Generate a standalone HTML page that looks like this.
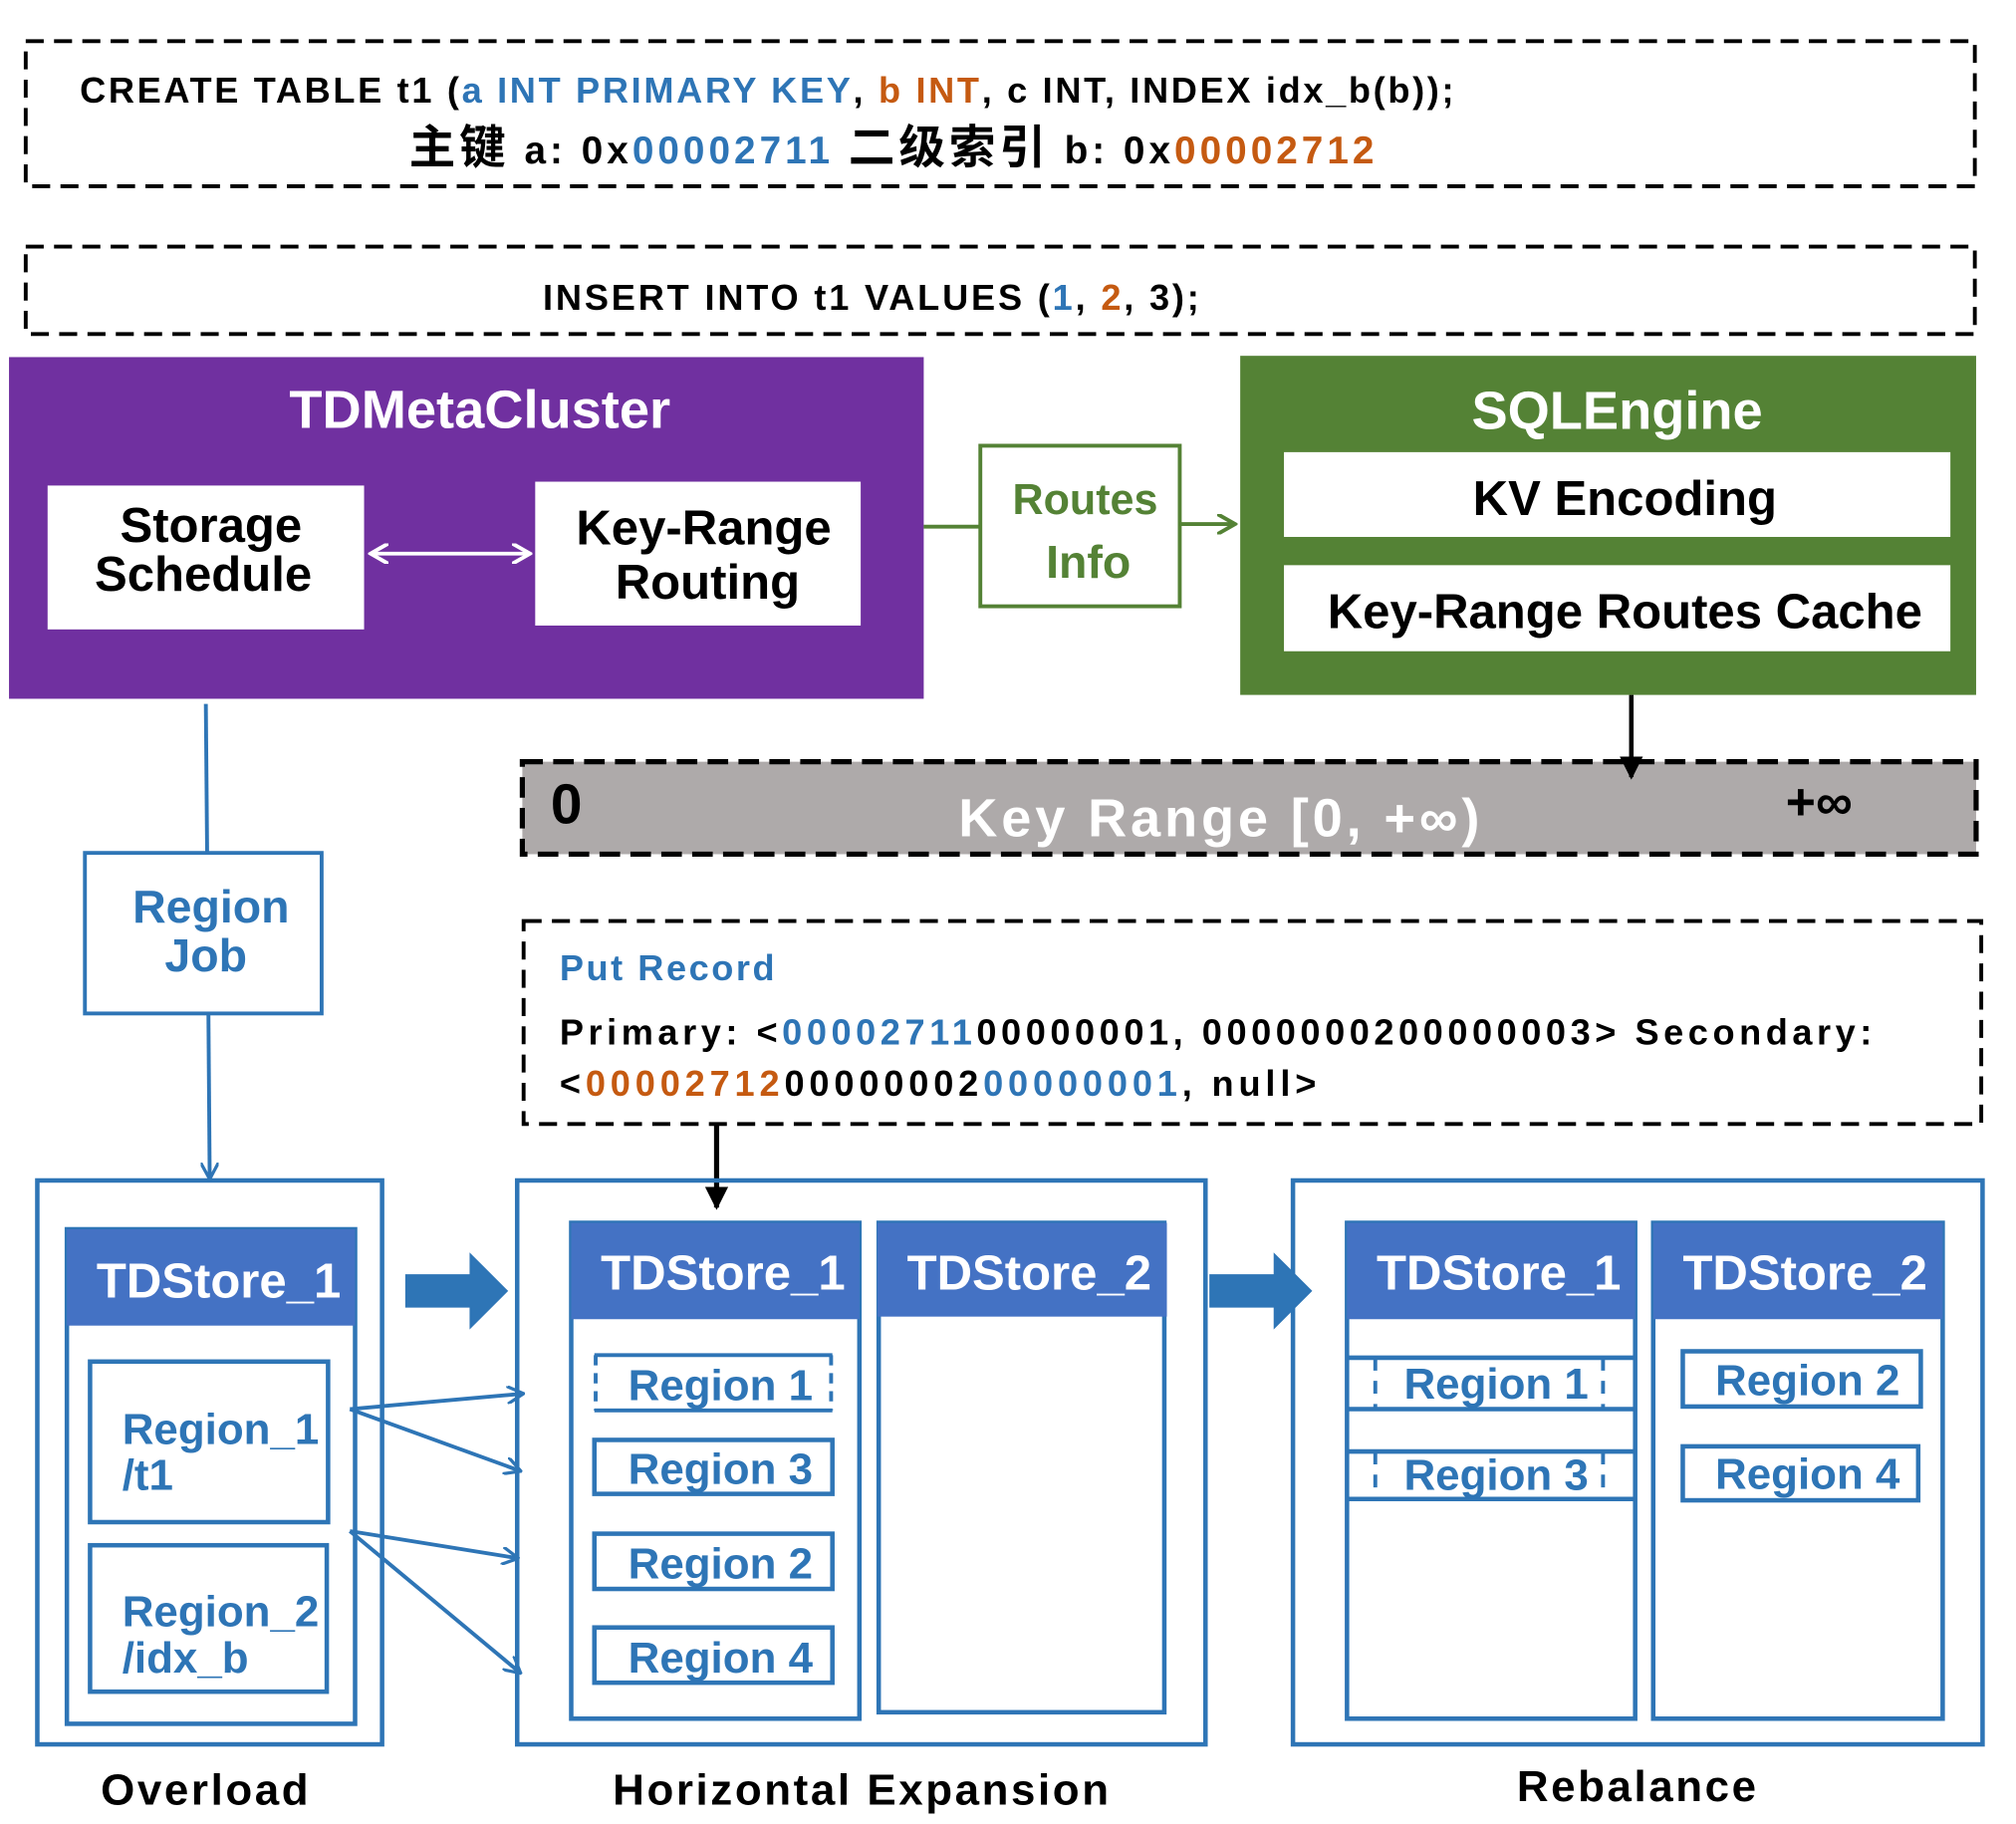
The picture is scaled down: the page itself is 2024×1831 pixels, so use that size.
<!DOCTYPE html>
<html><head><meta charset="utf-8"><style>
html,body{margin:0;padding:0;background:#fff;width:2024px;height:1831px;overflow:hidden}
svg{display:block}
text{font-family:"Liberation Sans","Noto Sans CJK SC",sans-serif;font-weight:bold}
</style></head><body>
<svg width="2024" height="1831" viewBox="0 0 1567 1420" preserveAspectRatio="none" xmlns="http://www.w3.org/2000/svg">
<defs>
<marker id="blk" markerWidth="18" markerHeight="18" refX="16" refY="9" orient="auto" markerUnits="userSpaceOnUse"><path d="M0,0 L18,9 L0,18 Z" fill="#000"/></marker>
<marker id="bl" markerWidth="14" markerHeight="14" refX="12" refY="7" orient="auto" markerUnits="userSpaceOnUse"><path d="M0,0 L13,7 L0,14" fill="none" stroke="#2e75b6" stroke-width="2.5"/></marker>
<marker id="gr" markerWidth="16" markerHeight="16" refX="14" refY="8" orient="auto" markerUnits="userSpaceOnUse"><path d="M0,0 L14,8 L0,16" fill="none" stroke="#548235" stroke-width="3"/></marker>
<marker id="wh" markerWidth="16" markerHeight="16" refX="14" refY="8" orient="auto-start-reverse" markerUnits="userSpaceOnUse"><path d="M0,0 L14,8 L0,16" fill="none" stroke="#fff" stroke-width="3"/></marker>
</defs>
<rect x="20" y="32" width="1515" height="113" fill="none" stroke="#000" stroke-width="3" stroke-dasharray="14,8"/>
<text x="62" y="80" font-size="28" fill="#000" textLength="1068" lengthAdjust="spacing">CREATE TABLE t1 (<tspan fill="#2e75b6">a INT PRIMARY KEY</tspan>, <tspan fill="#c55a11">b INT</tspan>, c INT, INDEX idx_b(b));</text>
<text x="318" y="127" font-size="30" fill="#000" textLength="750" lengthAdjust="spacing"><tspan font-size="36">主键</tspan>  a: 0x<tspan fill="#2e75b6">00002711</tspan>   <tspan font-size="36">二级索引</tspan>  b: 0x<tspan fill="#c55a11">00002712</tspan></text>
<rect x="20" y="192" width="1515" height="68" fill="none" stroke="#000" stroke-width="3" stroke-dasharray="14,8"/>
<text x="422" y="241" font-size="28" fill="#000" textLength="510" lengthAdjust="spacing">INSERT INTO t1 VALUES (<tspan fill="#2e75b6">1</tspan>, <tspan fill="#c55a11">2</tspan>, 3);</text>
<rect x="7" y="278" width="711" height="266" fill="#7030a0"/>
<text x="373" y="333" font-size="42" fill="#fff" text-anchor="middle">TDMetaCluster</text>
<rect x="37" y="378" width="246" height="112" fill="#fff"/>
<text x="164" y="422" font-size="38" text-anchor="middle" fill="#000">Storage</text>
<text x="158" y="460" font-size="38" text-anchor="middle" fill="#000">Schedule</text>
<rect x="416" y="375" width="253" height="112" fill="#fff"/>
<text x="547" y="424" font-size="38" text-anchor="middle" fill="#000">Key-Range</text>
<text x="550" y="466" font-size="38" text-anchor="middle" fill="#000">Routing</text>
<line x1="288" y1="431" x2="412" y2="431" stroke="#fff" stroke-width="3" marker-start="url(#wh)" marker-end="url(#wh)"/>
<line x1="718" y1="410" x2="762" y2="410" stroke="#548235" stroke-width="3"/>
<rect x="762" y="347" width="155" height="125" fill="#fff" stroke="#548235" stroke-width="3"/>
<text x="787" y="400" font-size="34" fill="#548235" textLength="113" lengthAdjust="spacingAndGlyphs">Routes</text>
<text x="846" y="450" font-size="36" fill="#548235" text-anchor="middle">Info</text>
<line x1="917" y1="408" x2="960" y2="408" stroke="#548235" stroke-width="3" marker-end="url(#gr)"/>
<rect x="964" y="277" width="572" height="264" fill="#548235"/>
<text x="1257" y="334" font-size="42" fill="#fff" text-anchor="middle">SQLEngine</text>
<rect x="998" y="352" width="518" height="66" fill="#fff"/>
<text x="1263" y="401" font-size="38" text-anchor="middle" fill="#000">KV Encoding</text>
<rect x="998" y="440" width="518" height="67" fill="#fff"/>
<text x="1263" y="489" font-size="38" text-anchor="middle" fill="#000">Key-Range Routes Cache</text>
<rect x="406" y="593" width="1130" height="72" fill="#aeaaaa" stroke="#000" stroke-width="4" stroke-dasharray="16,8"/>
<line x1="1268" y1="541" x2="1268" y2="605" stroke="#000" stroke-width="3.5" marker-end="url(#blk)"/>
<text x="428" y="641" font-size="44" fill="#000">0</text>
<text x="745" y="651" font-size="42" fill="#fff" textLength="405" lengthAdjust="spacing">Key Range [0, +∞)</text>
<text x="1388" y="638" font-size="40" fill="#000">+∞</text>
<rect x="407" y="717" width="1133" height="158" fill="none" stroke="#000" stroke-width="3" stroke-dasharray="14,8"/>
<text x="435" y="763" font-size="28" fill="#2e75b6" textLength="167" lengthAdjust="spacing">Put Record</text>
<text x="435" y="813" font-size="28" fill="#000" textLength="1020" lengthAdjust="spacing">Primary:   &lt;<tspan fill="#2e75b6">00002711</tspan>00000001, 0000000200000003&gt;   Secondary:</text>
<text x="435" y="853" font-size="28" fill="#000" textLength="588" lengthAdjust="spacing">&lt;<tspan fill="#c55a11">00002712</tspan>00000002<tspan fill="#2e75b6">00000001</tspan>, null&gt;</text>
<line x1="557" y1="875" x2="557" y2="940" stroke="#000" stroke-width="4" marker-end="url(#blk)"/>
<line x1="160" y1="548" x2="161" y2="664" stroke="#2e75b6" stroke-width="3"/>
<rect x="66" y="664" width="184" height="125" fill="#fff" stroke="#2e75b6" stroke-width="3"/>
<text x="164" y="718" font-size="36" fill="#2e75b6" text-anchor="middle">Region</text>
<text x="160" y="756" font-size="36" fill="#2e75b6" text-anchor="middle">Job</text>
<line x1="162" y1="789" x2="163" y2="917" stroke="#2e75b6" stroke-width="3" marker-end="url(#bl)"/>
<g fill="none" stroke="#2e75b6" stroke-width="3.5">
<rect x="29" y="919" width="268" height="439"/>
<rect x="52" y="957" width="224" height="385"/>
<rect x="70" y="1060" width="185" height="125"/>
<rect x="70" y="1203" width="184" height="114"/>
<rect x="402" y="919" width="535" height="439"/>
<rect x="444" y="952" width="224" height="386"/>
<rect x="683" y="952" width="222" height="381"/>
<rect x="462" y="1121" width="185" height="42"/>
<rect x="462" y="1194" width="185" height="43"/>
<rect x="462" y="1267" width="185" height="43"/>
<rect x="1005" y="919" width="536" height="439"/>
<rect x="1047" y="952" width="224" height="386"/>
<rect x="1285" y="952" width="225" height="386"/>
<rect x="1308" y="1052" width="185" height="43"/>
<rect x="1308" y="1126" width="183" height="42"/>
<line x1="1047" y1="1057" x2="1271" y2="1057"/><line x1="1047" y1="1097" x2="1271" y2="1097"/>
<line x1="1047" y1="1130" x2="1271" y2="1130"/><line x1="1047" y1="1167" x2="1271" y2="1167"/>
</g>
<g fill="none" stroke="#2e75b6" stroke-width="3">
<line x1="462" y1="1055" x2="647" y2="1055"/><line x1="462" y1="1098" x2="647" y2="1098"/>
<line x1="463" y1="1055" x2="463" y2="1098" stroke-dasharray="8,6"/><line x1="646" y1="1055" x2="646" y2="1098" stroke-dasharray="8,6"/>
<line x1="1069" y1="1057" x2="1069" y2="1097" stroke-dasharray="10,8"/><line x1="1246" y1="1057" x2="1246" y2="1097" stroke-dasharray="10,8"/>
<line x1="1069" y1="1130" x2="1069" y2="1167" stroke-dasharray="10,8"/><line x1="1246" y1="1130" x2="1246" y2="1167" stroke-dasharray="10,8"/>
</g>
<g fill="#4472c4">
<rect x="52" y="957" width="224" height="75"/>
<rect x="444" y="952" width="224" height="75"/>
<rect x="682" y="952" width="225" height="73"/>
<rect x="1047" y="952" width="224" height="75"/>
<rect x="1285" y="952" width="225" height="75"/>
</g>
<g font-size="38" fill="#fff" text-anchor="middle">
<text x="170" y="1010">TDStore_1</text>
<text x="562" y="1004">TDStore_1</text>
<text x="800" y="1004">TDStore_2</text>
<text x="1165" y="1004">TDStore_1</text>
<text x="1403" y="1004">TDStore_2</text>
</g>
<g font-size="34" fill="#2e75b6">
<text x="95" y="1124">Region_1</text><text x="95" y="1160">/t1</text>
<text x="95" y="1266">Region_2</text><text x="95" y="1302">/idx_b</text>
</g>
<g font-size="34" fill="#2e75b6" text-anchor="middle">
<text x="560" y="1090">Region 1</text>
<text x="560" y="1155">Region 3</text>
<text x="560" y="1229">Region 2</text>
<text x="560" y="1302">Region 4</text>
<text x="1163" y="1089">Region 1</text>
<text x="1163" y="1160">Region 3</text>
<text x="1405" y="1086">Region 2</text>
<text x="1405" y="1159">Region 4</text>
</g>
<path d="M315,992 L365,992 L365,975 L395,1005 L365,1035 L365,1018 L315,1018 Z" fill="#2e75b6"/>
<path d="M940,992 L990,992 L990,975 L1020,1005 L990,1035 L990,1018 L940,1018 Z" fill="#2e75b6"/>
<g stroke="#2e75b6" stroke-width="3">
<line x1="272" y1="1097" x2="406" y2="1085" marker-end="url(#bl)"/>
<line x1="272" y1="1097" x2="404" y2="1145" marker-end="url(#bl)"/>
<line x1="272" y1="1192" x2="402" y2="1213" marker-end="url(#bl)"/>
<line x1="272" y1="1192" x2="404" y2="1302" marker-end="url(#bl)"/>
</g>
<g font-size="34" fill="#000" text-anchor="middle" letter-spacing="2">
<text x="160" y="1405">Overload</text>
<text x="670" y="1405">Horizontal Expansion</text>
<text x="1273" y="1402">Rebalance</text>
</g>
</svg>
</body></html>
